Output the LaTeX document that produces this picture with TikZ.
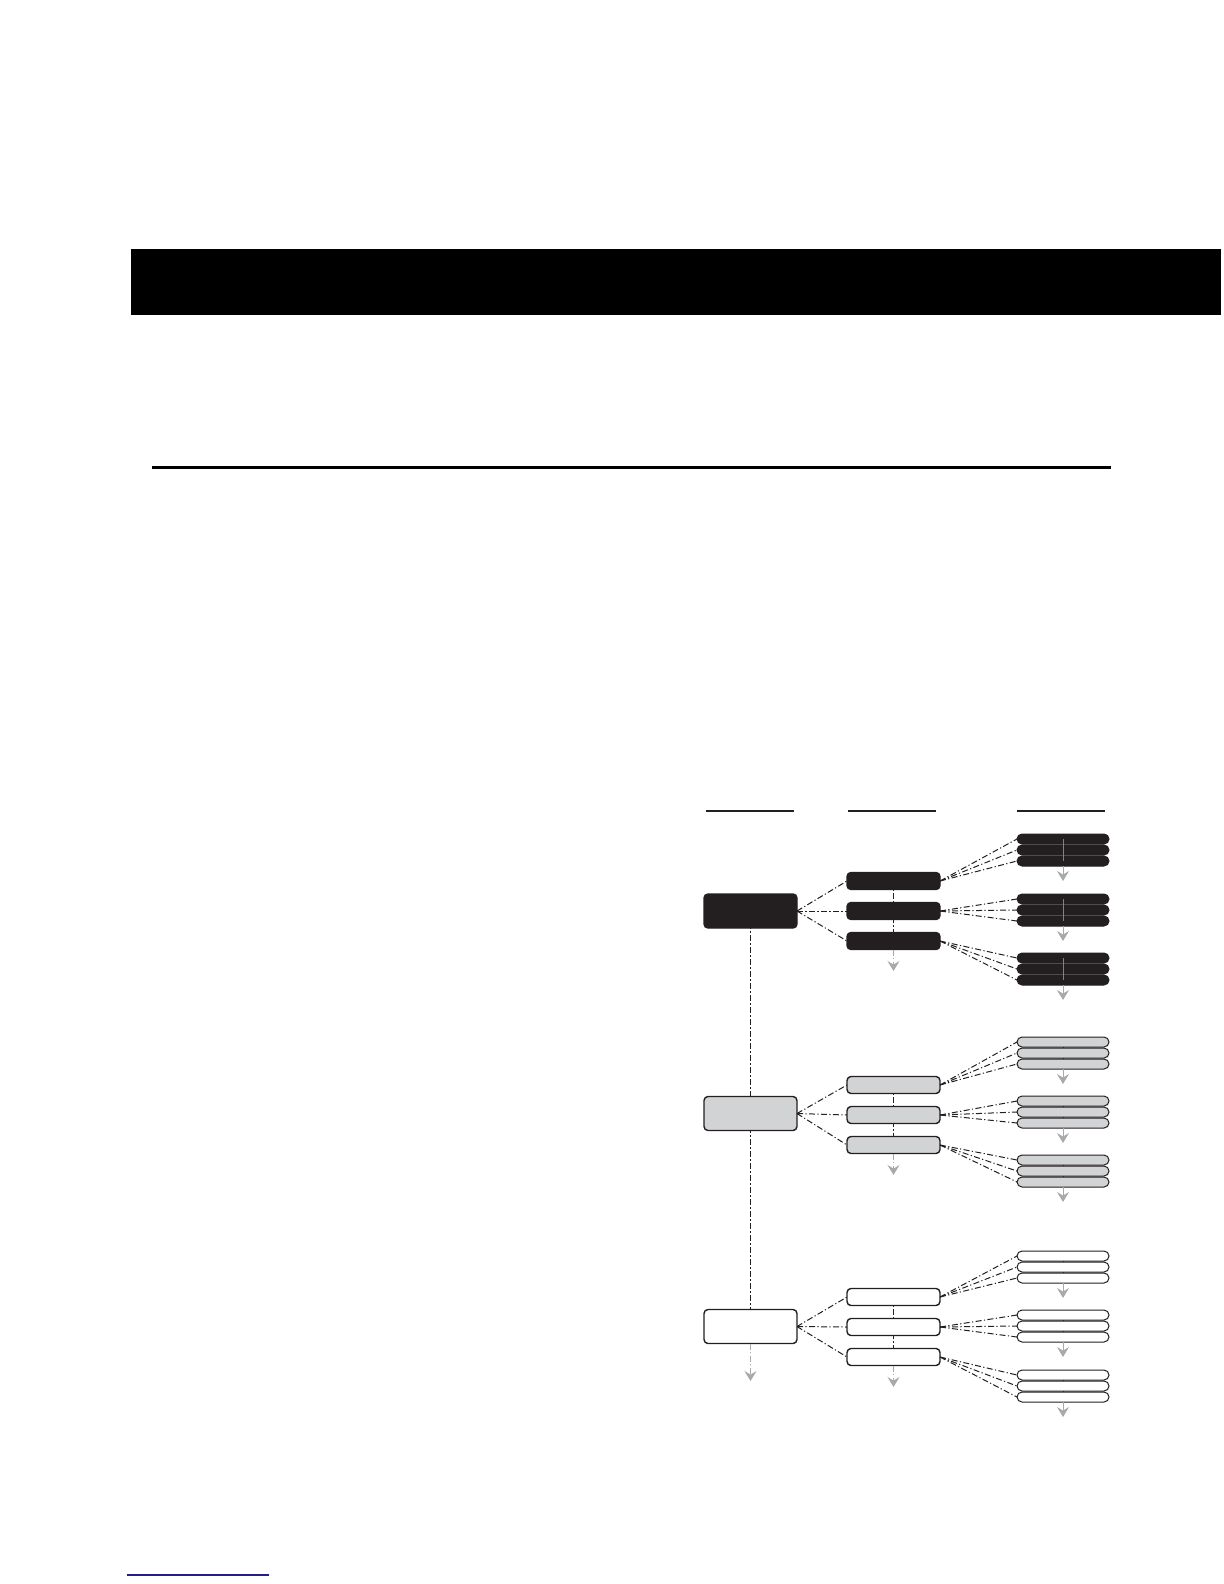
\documentclass[tikz,border=0pt]{standalone}
\usetikzlibrary{arrows.meta}
\definecolor{blk}{HTML}{231F20}
\definecolor{gry}{HTML}{D1D3D4}
\definecolor{arr}{HTML}{A7A9AC}
\definecolor{mid}{HTML}{808285}
\definecolor{lnk}{HTML}{1F1F8F}
\pgfdeclarelayer{bg}
\pgfsetlayers{bg,main}
\begin{document}
\begin{tikzpicture}[x=0.5pt,y=-0.5pt,
  l1box/.style={draw=blk, line width=0.7pt, rounded corners=2pt, minimum width=46.5pt, minimum height=17pt, inner sep=0pt, outer sep=0pt},
  l2box/.style={draw=blk, line width=0.7pt, rounded corners=2pt, minimum width=46.5pt, minimum height=8.5pt, inner sep=0pt, outer sep=0pt},
  l3box/.style={draw=blk, line width=0.5pt, rounded corners=2.5pt, minimum width=46pt, minimum height=5pt, inner sep=0pt, outer sep=0pt},
  dd/.style={draw=blk, line width=0.5pt, dash pattern=on 3pt off 1.2pt on 0.6pt off 1.2pt},
  garr/.style={draw=arr, line width=0.5pt, dash pattern=on 3pt off 1.2pt on 0.6pt off 1.2pt, -{Stealth[length=5pt,width=6pt,inset=1.8pt]}},
  garrs/.style={draw=arr, line width=0.5pt, -{Stealth[length=5pt,width=6pt,inset=1.8pt]}},
  hdr/.style={draw=blk, line width=0.7pt}
]
\useasboundingbox (0,0) rectangle (1224,1584);
% header bar and rules
\fill[black] (131,249) rectangle (1221,315);
\draw[black, line width=1.5pt] (152,467) -- (1111,467);
\draw[lnk, line width=0.6pt] (127,1575) -- (269,1575);
% column header lines
\draw[hdr] (706,811) -- (794,811);
\draw[hdr] (848,811) -- (936,811);
\draw[hdr] (1017,811) -- (1105,811);
% sections
\foreach \s/\fc/\ly/\ma/\ga/\gb/\gc in {1/blk/911/881/850/910/969, 2/gry/1113.5/1085/1053/1112/1171, 3/white/1326.5/1297/1267/1326/1386} {
  \node[l1box, fill=\fc] (p\s) at (750.5,\ly) {};
  \foreach \k/\yy in {1/0, 2/30, 3/60} {
    \node[l2box, fill=\fc] (q\s\k) at (893.5,\ma+\yy) {};
  }
  \foreach \k/\g in {1/\ga, 2/\gb, 3/\gc} {
    \foreach \j/\dy in {1/-11, 2/0, 3/11} {
      \node[l3box, fill=\fc] (r\s\k\j) at (1063,\g+\dy) {};
    }
    \coordinate (u\s\k) at (1063,\g+31);
    \draw[garrs] (r\s\k3.south) -- (u\s\k);
    \ifnum\s=1
      \draw[mid, line width=0.35pt] (r\s\k1.center) -- (r\s\k3.center);
    \else
      \begin{pgfonlayer}{bg}
        \draw[blk, line width=0.4pt] (r\s\k1.north) -- (r\s\k3.south);
      \end{pgfonlayer}
    \fi
    \draw[dd] (p\s.east) -- (q\s\k.west);
    \foreach \j in {1,2,3} {
      \draw[dd] (q\s\k.east) -- (r\s\k\j.west);
    }
  }
  \begin{pgfonlayer}{bg}
    \draw[dd] (q\s1.center) -- (q\s3.center);
  \end{pgfonlayer}
  \coordinate (t\s) at (893.5,\ma+90);
  \draw[garr] (q\s3.south) -- (t\s);
}
\begin{pgfonlayer}{bg}
  \draw[dd] (p1.center) -- (p3.center);
\end{pgfonlayer}
\coordinate (tend) at (750.5,1381);
\draw[garr] (p3.south) -- (tend);
\end{tikzpicture}
\end{document}
